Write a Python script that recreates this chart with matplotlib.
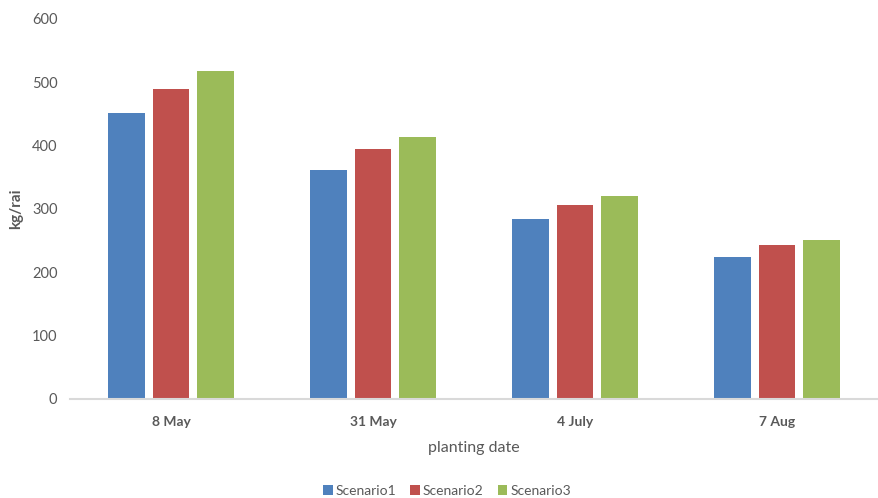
import numpy as np
import matplotlib.pyplot as plt

dates = ['8 May', '31 May', '4 July', '7 Aug']
scenario1 = [451, 361, 284, 224]
scenario2 = [490, 394, 307, 243]
scenario3 = [518, 413, 320, 251]
series = ['Scenario1', 'Scenario2', 'Scenario3']
colors = ['#4F81BD', '#C0504D', '#9BBB59']

plt.rcParams['font.family'] = ['Lato', 'DejaVu Sans']
text_col = '#595959'

fig = plt.figure(figsize=(8.79, 4.98), dpi=100)
ax = fig.add_axes([70 / 879, 1 - 399 / 498, 808 / 879, 380 / 498])

x = np.arange(len(dates))
w = 0.18
step = 0.22
for i, (vals, name) in enumerate(zip([scenario1, scenario2, scenario3], series)):
    ax.bar(x + (i - 1) * step, vals, width=w, color=colors[i], label=name, zorder=2)

ax.set_xlim(-0.5, len(dates) - 0.5)
ax.set_ylim(0, 600)
ax.set_yticks(range(0, 601, 100))
ax.set_xticks(x)
ax.set_xticklabels(dates, fontsize=10, fontweight='bold', color=text_col)
for lab in ax.get_yticklabels():
    lab.set_fontsize(10.5)
    lab.set_color(text_col)

for s in ['top', 'right', 'left']:
    ax.spines[s].set_visible(False)
ax.spines['bottom'].set_color('#D9D9D9')
ax.spines['bottom'].set_linewidth(1.5)
ax.tick_params(axis='both', length=0)
ax.tick_params(axis='x', pad=12)
ax.tick_params(axis='y', pad=9)

ax.set_xlabel('planting date', fontsize=11.5, color=text_col)
ax.xaxis.set_label_coords(0.5, -42 / 380)
ax.set_ylabel('kg/rai', fontsize=11, fontweight='bold', color=text_col)
ax.yaxis.set_label_coords(-47 / 808, 0.5)

fig.legend(loc='center', bbox_to_anchor=(447 / 879, 1 - 491 / 498), ncol=3,
           frameon=False, fontsize=10, handlelength=0.7, handleheight=0.7,
           handletextpad=0.2, columnspacing=1.0, labelcolor=text_col)

fig.savefig('out.png', dpi=100)
